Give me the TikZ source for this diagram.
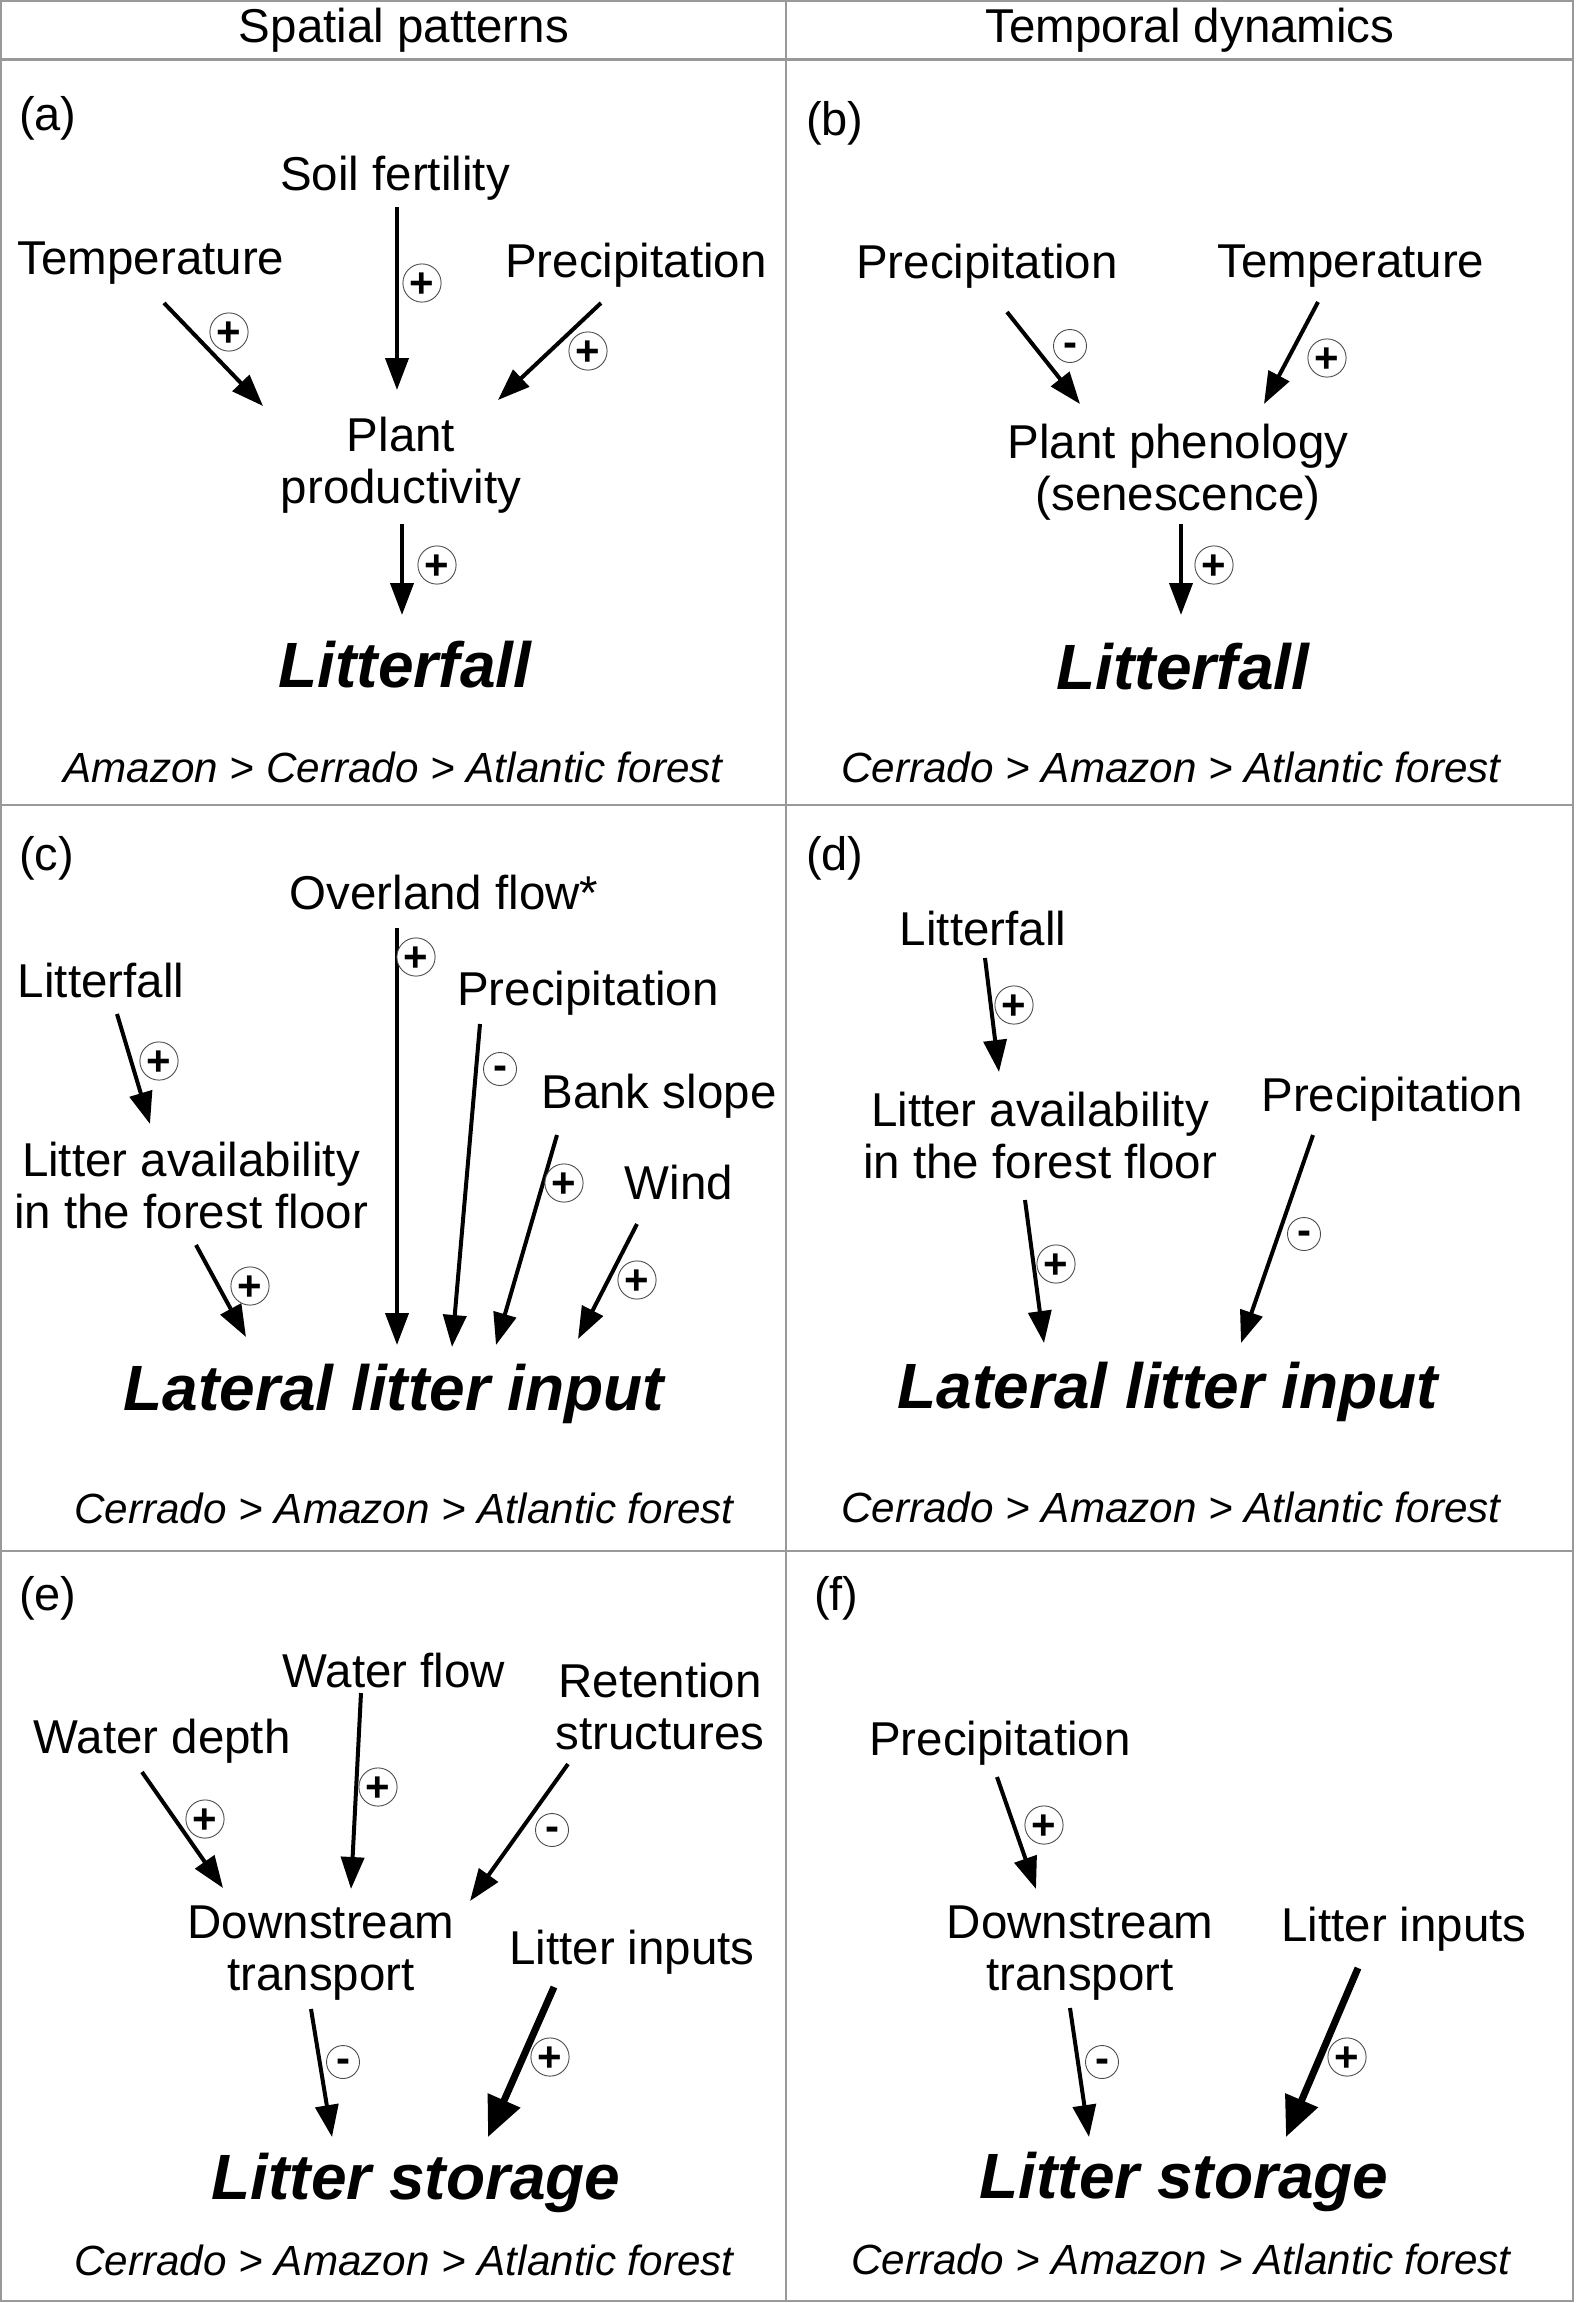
\documentclass[tikz,border=0pt]{standalone}
\usepackage{fontspec}
\setmainfont{Liberation Sans}
\usetikzlibrary{arrows.meta,calc}
\begin{document}
\begin{tikzpicture}[x=1pt,y=-1pt,
  lbl/.style={font=\fontsize{47.5}{52}\selectfont,align=center,inner sep=0pt},
  hdr/.style={font=\fontsize{47.5}{52}\selectfont,inner sep=0pt},
  tag/.style={font=\fontsize{47}{52}\selectfont,inner sep=0pt,anchor=west},
  big/.style={font=\fontsize{64}{70}\selectfont\bfseries\itshape,inner sep=0pt},
  rank/.style={font=\fontsize{42.2}{48}\selectfont\itshape,inner sep=0pt},
  sgn/.style={circle,draw=black!70,line width=0.9pt,minimum size=33pt,inner sep=0pt,fill=white,
    font=\fontsize{42}{42}\selectfont\bfseries,text depth=0pt},
  pl/.style={sgn,text height=29.4pt},
  mi/.style={sgn,text height=21.5pt},
  arr/.style={line width=4pt,-{Triangle[length=32pt,width=23pt]}},
  tharr/.style={line width=7pt,-{Triangle[length=40pt,width=34pt]}},
  grid/.style={draw=black!40,line width=2pt}]
\useasboundingbox (0,0) rectangle (1575,2303);
% frame
\draw[grid] (1,1) rectangle (1573,2301);
\draw[grid] (1,805) -- (1573,805);
\draw[grid] (1,1551) -- (1573,1551);
\draw[grid] (786,1) -- (786,2301);
\draw[draw=black!40,line width=3pt] (1,59) -- (1573,59);
% headers
\node[hdr] (hsp) at (404,30) {Spatial patterns};
\node[hdr] (htd) at (1190,30) {Temporal dynamics};

% ---------- (a)
\node[tag] (taga) at (19,118) {(a)};
\node[lbl] (asoil) at (395,178) {Soil fertility};
\node[lbl] (atemp) at (151,263) {Temperature};
\node[lbl] (aprec) at (636,265) {Precipitation};
\node[lbl] (aplant) at (401,465) {Plant\\productivity};
\node[big] (alit) at (405,665) {Litterfall};
\node[rank] (arank) at (393,767) {Amazon {>} Cerrado {>} Atlantic forest};
\draw[arr] ($(asoil)+(2,29)$) -- ($(aplant)+(-4,-75)$);
\draw[arr] ($(atemp)+(13,40)$) -- ($(aplant)+(-138,-59)$);
\draw[arr] ($(aprec)+(-35,38)$) -- ($(aplant)+(97,-65)$);
\draw[arr] ($(aplant)+(1,59)$) -- ($(alit)+(-3,-50)$);
\node[pl] (sa1) at (422,283) {+};
\node[pl] (sa2) at (229,332) {+};
\node[pl] (sa3) at (588,351) {+};
\node[pl] (sa4) at (437,565) {+};

% ---------- (b)
\node[tag] (tagb) at (806,123) {(b)};
\node[lbl] (bprec) at (987,266) {Precipitation};
\node[lbl] (btemp) at (1351,266) {Temperature};
\node[lbl] (bplant) at (1178,472) {Plant phenology\\(senescence)};
\node[big] (blit) at (1183,667) {Litterfall};
\node[rank] (brank) at (1171,767) {Cerrado {>} Amazon {>} Atlantic forest};
\draw[arr] ($(bprec)+(20,46)$) -- ($(bplant)+(-98,-68)$);
\draw[arr] ($(btemp)+(-33,36)$) -- ($(bplant)+(86,-68)$);
\draw[arr] ($(bplant)+(3,52)$) -- ($(blit)+(-2,-52)$);
\node[mi] (sb1) at (1070,346) {-};
\node[pl] (sb2) at (1327,358) {+};
\node[pl] (sb3) at (1214,565) {+};

% ---------- (c)
\node[tag] (tagc) at (19,858) {(c)};
\node[lbl] (cover) at (444,893) {Overland flow*};
\node[lbl] (clit) at (101,981) {Litterfall};
\node[lbl] (cprec) at (588,993) {Precipitation};
\node[lbl] (cbank) at (659,1096) {Bank slope};
\node[lbl] (cwind) at (679,1183) {Wind};
\node[lbl] (cla) at (191,1186) {Litter availability\\in the forest floor};
\node[big] (clli) at (394,1394) {Lateral litter input};
\node[rank] (crank) at (404,1508) {Cerrado {>} Amazon {>} Atlantic forest};
\draw[arr] ($(clit)+(16,33)$) -- ($(cla)+(-41,-62)$);
\draw[arr] ($(cla)+(5,59)$) -- ($(clli)+(-148,-57)$);
\draw[arr] ($(cover)+(-47,35)$) -- ($(clli)+(3,-49)$);
\draw[arr] ($(cprec)+(-108,31)$) -- ($(clli)+(58,-47)$);
\draw[arr] ($(cbank)+(-102,39)$) -- ($(clli)+(102,-49)$);
\draw[arr] ($(cwind)+(-42,41)$) -- ($(clli)+(184,-55)$);
\node[pl] (sc1) at (159,1061) {+};
\node[pl] (sc2) at (250,1286) {+};
\node[pl] (sc3) at (416,957) {+};
\node[mi] (sc4) at (500,1069) {-};
\node[pl] (sc5) at (564,1183) {+};
\node[pl] (sc6) at (637,1280) {+};

% ---------- (d)
\node[tag] (tagd) at (806,858) {(d)};
\node[lbl] (dlit) at (983,929) {Litterfall};
\node[lbl] (dla) at (1040,1136) {Litter availability\\in the forest floor};
\node[lbl] (dprec) at (1392,1099) {Precipitation};
\node[big] (dlli) at (1168,1392) {Lateral litter input};
\node[rank] (drank) at (1171,1507) {Cerrado {>} Amazon {>} Atlantic forest};
\draw[arr] ($(dlit)+(2,29)$) -- ($(dla)+(-41,-64)$);
\draw[arr] ($(dla)+(-15,64)$) -- ($(dlli)+(-124,-49)$);
\draw[arr] ($(dprec)+(-79,36)$) -- ($(dlli)+(73,-49)$);
\node[pl] (sd1) at (1014,1005) {+};
\node[pl] (sd2) at (1056,1264) {+};
\node[mi] (sd3) at (1304,1234) {-};

% ---------- (e)
\node[tag] (tage) at (19,1598) {(e)};
\node[lbl] (ewf) at (394,1670) {Water flow};
\node[lbl] (eret) at (660,1706) {Retention\\structures};
\node[lbl] (ewd) at (162,1741) {Water depth};
\node[lbl] (eds) at (321,1953) {Downstream\\transport};
\node[lbl] (eli) at (632,1952) {Litter inputs};
\node[big] (els) at (416,2183) {Litter storage};
\node[rank] (erank) at (404,2260) {Cerrado {>} Amazon {>} Atlantic forest};
\draw[arr] ($(ewd)+(-20,31)$) -- ($(eds)+(-98,-65)$);
\draw[arr] ($(ewf)+(-33,23)$) -- ($(eds)+(30,-64)$);
\draw[arr] ($(eret)+(-92,58)$) -- ($(eds)+(149,-52)$);
\draw[arr] ($(eds)+(-10,56)$) -- ($(els)+(-84,-46)$);
\draw[tharr] ($(eli)+(-78,35)$) -- ($(els)+(72,-46)$);
\node[pl] (se1) at (205,1819) {+};
\node[pl] (se2) at (378,1787) {+};
\node[mi] (se3) at (552,1830) {-};
\node[mi] (se4) at (343,2062) {-};
\node[pl] (se5) at (550,2057) {+};

% ---------- (f)
\node[tag] (tagf) at (814,1598) {(f)};
\node[lbl] (fprec) at (1000,1743) {Precipitation};
\node[lbl] (fds) at (1080,1953) {Downstream\\transport};
\node[lbl] (fli) at (1404,1929) {Litter inputs};
\node[big] (fls) at (1184,2182) {Litter storage};
\node[rank] (frank) at (1181,2259) {Cerrado {>} Amazon {>} Atlantic forest};
\draw[arr] ($(fprec)+(-3,34)$) -- ($(fds)+(-44,-64)$);
\draw[arr] ($(fds)+(-10,55)$) -- ($(fls)+(-95,-45)$);
\draw[tharr] ($(fli)+(-46,39)$) -- ($(fls)+(102,-45)$);
\node[pl] (sf1) at (1044,1825) {+};
\node[mi] (sf2) at (1102,2062) {-};
\node[pl] (sf3) at (1347,2057) {+};
\end{tikzpicture}
\end{document}
